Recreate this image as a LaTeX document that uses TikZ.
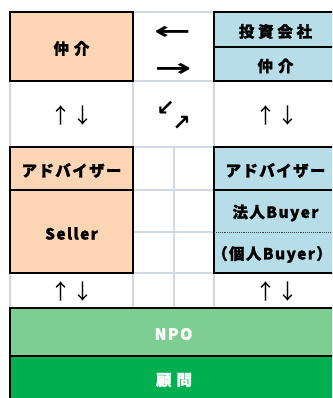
\documentclass[tikz,border=0pt]{standalone}
\usepackage{fontspec}
\usepackage{graphicx}
\setmainfont{Noto Sans CJK JP}
\newfontfamily\jpwide{Noto Sans CJK JP}[LetterSpace=32, BoldFeatures={FakeBold=1.4}]
\newfontfamily\jpmid{Noto Sans CJK JP}[LetterSpace=24, BoldFeatures={FakeBold=1.4}]
\newfontfamily\jpkat{Noto Sans CJK JP}[LetterSpace=9, BoldFeatures={FakeBold=1.4}]
\newfontfamily\jplat{Noto Sans CJK JP}[LetterSpace=9, BoldFeatures={FakeBold=1.4}]
\newfontfamily\jpnpo{Noto Sans CJK JP}[LetterSpace=10, BoldFeatures={FakeBold=1.4}]
\newfontfamily\arrfont{DejaVu Sans}
\newfontfamily\thinarr{Noto Sans CJK JP}
\definecolor{peach}{HTML}{FCD5B4}
\definecolor{lblue}{HTML}{B7DEE8}
\definecolor{npog}{HTML}{7ECE94}
\definecolor{advg}{HTML}{00B050}
\definecolor{gridc}{HTML}{D0D7E5}
\begin{document}
\begin{tikzpicture}[x=1pt,y=-1pt,
  gridline/.style={draw=gridc, line width=1.3pt},
  cell/.style={inner sep=0pt, outer sep=0pt, anchor=north west},
  txt/.style={inner sep=0pt, yshift=-2pt},
  bigb/.style={line width=2.6pt},
  midb/.style={line width=1.4pt},
  lblw/.style={txt, font=\fontsize{15.5}{17}\selectfont\bfseries\jpwide},
  lblm/.style={txt, font=\fontsize{15.5}{17}\selectfont\bfseries\jpmid},
  lblk/.style={txt, font=\fontsize{15.5}{17}\selectfont\bfseries\jpkat},
  lbll/.style={txt, font=\fontsize{15.5}{17}\selectfont\bfseries\jplat},
  lbln/.style={txt, font=\fontsize{15.5}{17}\selectfont\bfseries\jpnpo},
  updown/.style={font=\fontsize{21}{23}\selectfont\thinarr, inner sep=0pt},
  harr/.style={font=\fontsize{22}{24}\selectfont\bfseries\arrfont, inner sep=0pt},
]
\useasboundingbox (0,0) rectangle (332,398);
\clip (0,0) rectangle (332,398);
\fill[white] (0,0) rectangle (332,398);
% grid lines
\draw[gridline] (10,81) -- (10,308);
\draw[gridline] (133,12) -- (133,308);
\draw[gridline] (174,147) -- (174,308);
\draw[gridline] (214,12) -- (214,308);
\draw[gridline] (340,81) -- (340,308);
\draw[gridline] (133,12) -- (214,12);
\draw[gridline] (10,81) -- (340,81);
\draw[gridline] (10,147) -- (340,147);
\draw[gridline] (133,190) -- (214,190);
\draw[gridline] (133,232) -- (214,232);
\draw[gridline] (10,273) -- (340,273);
% top left
\node[cell, fill=peach, minimum width=123pt, minimum height=69pt] (medL) at (10,12) {};
\node[lblw] (medLt) at (medL.center) {仲介};
\draw[bigb] (medL.north west) rectangle (medL.south east);
% top right
\node[cell, fill=lblue, minimum width=126pt, minimum height=35pt] (inv) at (214,12) {};
\node[cell, fill=lblue, minimum width=126pt, minimum height=34pt] (medR) at (214,47) {};
\node[lblm] (invt) at ([xshift=-1.5pt]inv.center) {投資会社};
\node[lblw] (medRt) at ([xshift=-1.5pt]medR.center) {仲介};
\draw[bigb] (inv.north west) rectangle (medR.south east);
\draw[bigb] (inv.south west) -- (inv.south east);
% middle left
\node[cell, fill=peach, minimum width=123pt, minimum height=43pt] (advL) at (10,147) {};
\node[cell, fill=peach, minimum width=123pt, minimum height=83pt] (sel) at (10,190) {};
\node[lblk] (advLt) at (advL.center) {アドバイザー};
\node[lbll] (selt) at (sel.center) {Seller};
\draw[bigb] (advL.north west) rectangle (sel.south east);
\draw[midb] (advL.south west) -- (advL.south east);
% middle right
\node[cell, fill=lblue, minimum width=126pt, minimum height=43pt] (advR) at (214,147) {};
\node[cell, fill=lblue, minimum width=126pt, minimum height=42pt] (corp) at (214,190) {};
\node[cell, fill=lblue, minimum width=126pt, minimum height=41pt] (indiv) at (214,232) {};
\node[lblk] (advRt) at ([xshift=-1.5pt]advR.center) {アドバイザー};
\node[lbll] (corpt) at ([xshift=-1.5pt]corp.center) {法人Buyer};
\node[lbll] (indivt) at ([xshift=-5pt]indiv.center) {（個人Buyer）};
\draw[bigb] (advR.north west) rectangle (indiv.south east);
\draw[midb] (advR.south west) -- (advR.south east);
\draw[line width=0.9pt, densely dotted, black!75] (corp.south west) -- (corp.south east);
% bottom
\node[cell, fill=npog, minimum width=330pt, minimum height=48pt] (npo) at (10,308) {};
\node[cell, fill=advg, minimum width=330pt, minimum height=54pt] (adv) at (10,356) {};
\node[lbln, text=white] (npot) at ([xshift=-1.5pt]npo.center) {NPO};
\node[lblw, text=white] (advt) at (174,378) {顧問};
\draw[bigb] (npo.north west) rectangle (adv.south east);
\draw[bigb] (npo.south west) -- (npo.south east);
% arrows (text)
\node[harr] (la) at (172.5,33) {\scalebox{2.0}[1.1]{←}};
\node[harr] (ra) at (173,70) {\scalebox{2.0}[1.1]{→}};
\node[harr] (dla) at (165.5,108.5) {↙};
\node[harr] (ura) at (181.5,123.5) {↗};
\node[updown] (ud1) at (72,116) {↑\hspace{1pt}↓};
\node[updown] (ud2) at (277,116) {↑\hspace{1pt}↓};
\node[updown] (ud3) at (72,292) {↑\hspace{1pt}↓};
\node[updown] (ud4) at (277,292) {↑\hspace{1pt}↓};
\end{tikzpicture}
\end{document}
